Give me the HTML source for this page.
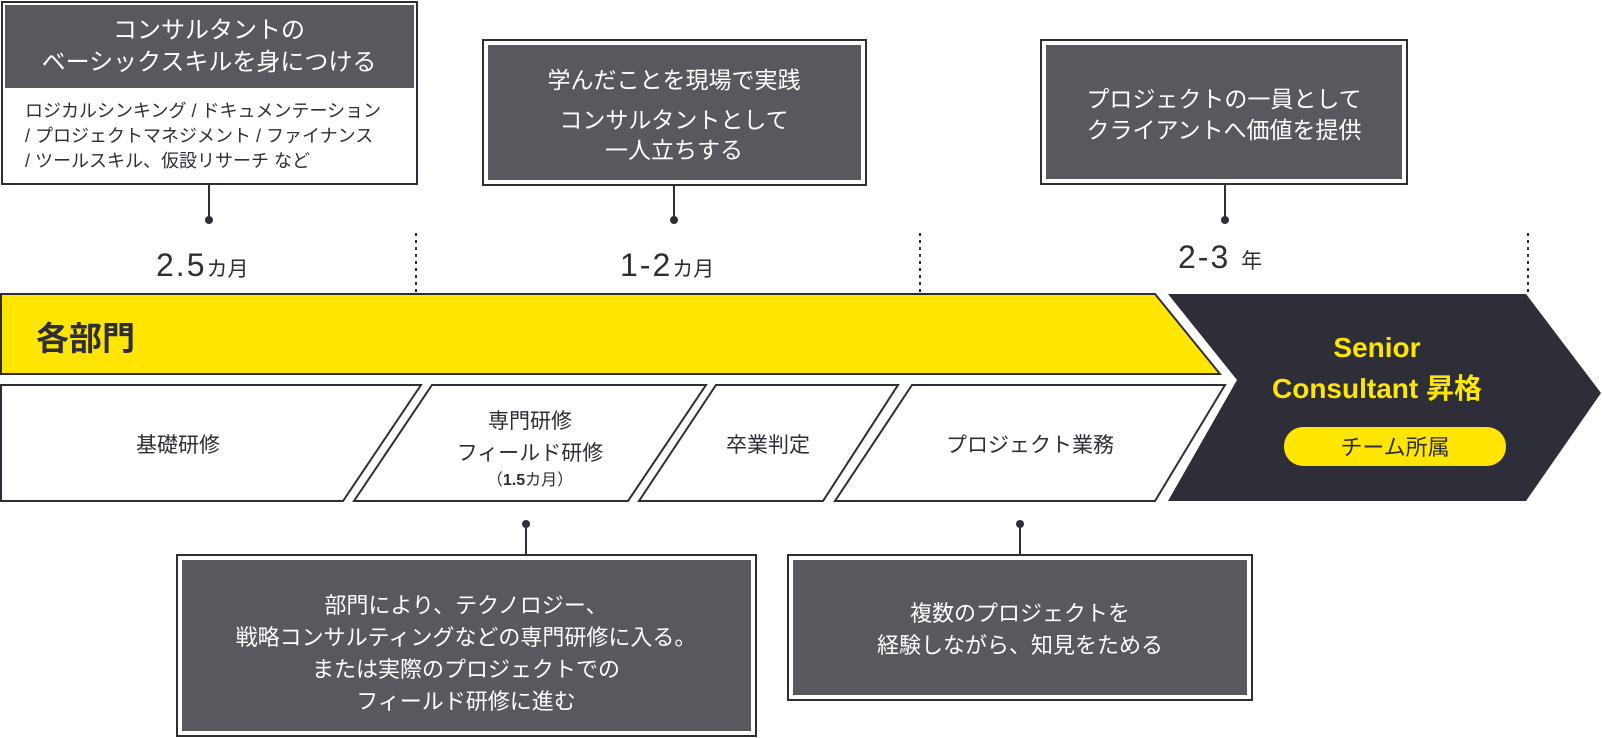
<!DOCTYPE html>
<html><head><meta charset="utf-8"><style>
html,body{margin:0;padding:0;background:#fff;}
svg{display:block;}
text{font-family:"Liberation Sans","Noto Sans CJK JP",sans-serif;}
</style></head><body>
<svg width="1602" height="738" viewBox="0 0 1602 738" xmlns="http://www.w3.org/2000/svg">
<g stroke="#2e2e38" stroke-width="2" stroke-dasharray="3,4">
<line x1="416" y1="233" x2="416" y2="293"/>
<line x1="920" y1="233" x2="920" y2="293"/>
<line x1="1528" y1="233" x2="1528" y2="293"/>
</g>
<rect x="2" y="2" width="415" height="182" fill="#fff" stroke="#2e2e38" stroke-width="2"/>
<rect x="5" y="5" width="409" height="83" fill="#58585f"/>
<text x="209" y="38" font-size="24" fill="#fff" text-anchor="middle">コンサルタントの</text>
<text x="209" y="70" font-size="24" fill="#fff" text-anchor="middle">ベーシックスキルを身につける</text>
<g font-size="18" fill="#2e2e38">
<text x="25" y="117">ロジカルシンキング / ドキュメンテーション</text>
<text x="25" y="142">/ プロジェクトマネジメント / ファイナンス</text>
<text x="25" y="167">/ ツールスキル、仮設リサーチ  など</text>
</g>
<line x1="209" y1="184" x2="209" y2="220" stroke="#2e2e38" stroke-width="2"/>
<circle cx="209" cy="220" r="4" fill="#2e2e38"/>
<rect x="483" y="40" width="383" height="145" fill="#fff" stroke="#2e2e38" stroke-width="2"/>
<rect x="488" y="45" width="373" height="135" fill="#58585f"/>
<g font-size="23" fill="#fff" text-anchor="middle">
<text x="674" y="88">学んだことを現場で実践</text>
<text x="674" y="128">コンサルタントとして</text>
<text x="674" y="158">一人立ちする</text>
</g>
<line x1="674" y1="185" x2="674" y2="220" stroke="#2e2e38" stroke-width="2"/>
<circle cx="674" cy="220" r="4" fill="#2e2e38"/>
<rect x="1041" y="40" width="366" height="144" fill="#fff" stroke="#2e2e38" stroke-width="2"/>
<rect x="1046" y="45" width="356" height="134" fill="#58585f"/>
<g font-size="23" fill="#fff" text-anchor="middle">
<text x="1224" y="107">プロジェクトの一員として</text>
<text x="1224" y="138">クライアントへ価値を提供</text>
</g>
<line x1="1225" y1="184" x2="1225" y2="220" stroke="#2e2e38" stroke-width="2"/>
<circle cx="1225" cy="220" r="4" fill="#2e2e38"/>
<g fill="#2e2e38">
<text x="156" y="276" font-size="32" letter-spacing="2">2.5<tspan font-size="21" letter-spacing="0">カ月</tspan></text>
<text x="620" y="276" font-size="32" letter-spacing="2">1-2<tspan font-size="21" letter-spacing="0">カ月</tspan></text>
<text x="1178" y="268" font-size="32" letter-spacing="2">2-3 <tspan font-size="21" letter-spacing="0">年</tspan></text>
</g>
<polygon points="1,294 1155,294 1220,374 1,374" fill="#ffe600" stroke="#2e2e38" stroke-width="2"/>
<text x="36" y="350" font-size="33" font-weight="bold" fill="#2e2e38">各部門</text>
<polygon points="1168,294 1526,294 1601,393 1526,501 1168,501 1237,380" fill="#2e2e38"/>
<text x="1377" y="357" font-size="28" font-weight="bold" fill="#ffe600" text-anchor="middle">Senior</text>
<text x="1377" y="398" font-size="28" font-weight="bold" fill="#ffe600" text-anchor="middle">Consultant 昇格</text>
<rect x="1284" y="427" width="222" height="39" rx="19" fill="#ffe600"/>
<text x="1395" y="455" font-size="22" fill="#2e2e38" text-anchor="middle">チーム所属</text>
<g fill="#fff" stroke="#2e2e38" stroke-width="2">
<polygon points="1,385 421,385 343,501 1,501"/>
<polygon points="432,385 706,385 628,501 354,501"/>
<polygon points="716,385 898,385 823,501 639,501"/>
<polygon points="912,385 1225,385 1155,501 835,501"/>
</g>
<g font-size="21" fill="#2e2e38" text-anchor="middle">
<text x="178" y="452">基礎研修</text>
<text x="530" y="428">専門研修</text>
<text x="530" y="460">フィールド研修</text>
<text x="530" y="485" font-size="16">（<tspan font-weight="bold">1.5</tspan>カ月）</text>
<text x="768" y="452">卒業判定</text>
<text x="1030" y="452">プロジェクト業務</text>
</g>
<line x1="526" y1="524" x2="526" y2="555" stroke="#2e2e38" stroke-width="2"/>
<circle cx="526" cy="524" r="4" fill="#2e2e38"/>
<rect x="177" y="555" width="579" height="181" fill="#fff" stroke="#2e2e38" stroke-width="2"/>
<rect x="182" y="560" width="569" height="171" fill="#58585f"/>
<g font-size="22" fill="#fff" text-anchor="middle">
<text x="466" y="613">部門により、テクノロジー、</text>
<text x="466" y="645">戦略コンサルティングなどの専門研修に入る。</text>
<text x="466" y="677">または実際のプロジェクトでの</text>
<text x="466" y="709">フィールド研修に進む</text>
</g>
<line x1="1020" y1="524" x2="1020" y2="555" stroke="#2e2e38" stroke-width="2"/>
<circle cx="1020" cy="524" r="4" fill="#2e2e38"/>
<rect x="788" y="555" width="464" height="145" fill="#fff" stroke="#2e2e38" stroke-width="2"/>
<rect x="793" y="560" width="454" height="135" fill="#58585f"/>
<g font-size="22" fill="#fff" text-anchor="middle">
<text x="1020" y="621">複数のプロジェクトを</text>
<text x="1020" y="653">経験しながら、知見をためる</text>
</g>
</svg>
</body></html>
